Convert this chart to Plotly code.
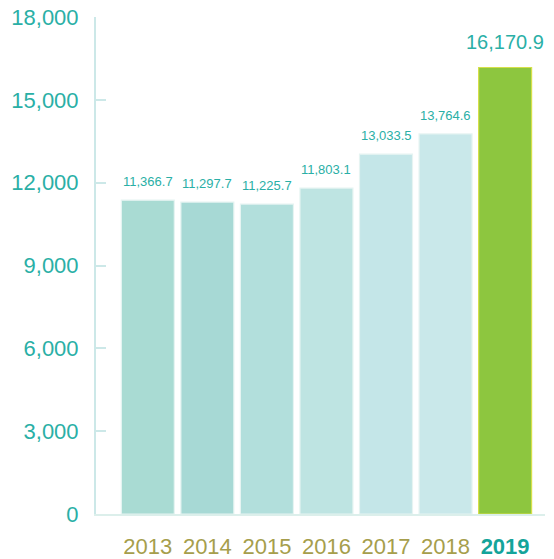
import plotly.graph_objects as go

years = ["2013", "2014", "2015", "2016", "2017", "2018", "2019"]
values = [11366.7, 11297.7, 11225.7, 11803.1, 13033.5, 13764.6, 16170.9]
value_labels = ["11,366.7", "11,297.7", "11,225.7", "11,803.1", "13,033.5", "13,764.6", "16,170.9"]
bar_colors = ["#a9dbd3", "#a7d9d5", "#b2dfdc", "#bee4e2", "#c4e6e8", "#c9e8ea", "#8dc63f"]
line_colors = ["#e6f4f2", "#e6f4f2", "#e6f4f2", "#e6f4f2", "#e6f4f2", "#e6f4f2", "#d6e04a"]
ytick_vals = [0, 3000, 6000, 9000, 12000, 15000, 18000]
ytick_text = ["0", "3,000", "6,000", "9,000", "12,000", "15,000", "18,000"]

TEAL = "#2aafa6"
OLIVE = "#a69e4c"
FONT = "Liberation Sans"

xt = [y if y != "2019" else "<b><span style='color:#14a49a'>2019</span></b>" for y in years]

fig = go.Figure()
fig.add_trace(go.Bar(
    x=list(range(len(years))), y=values,
    marker=dict(color=bar_colors, line=dict(color=line_colors, width=1.2)),
    width=0.89, hoverinfo="skip",
))

for i, (v, t) in enumerate(zip(values, value_labels)):
    big = years[i] == "2019"
    fig.add_annotation(
        x=i, y=v, text=t, showarrow=False, xanchor="center", yanchor="bottom",
        yshift=13 if big else 9,
        font=dict(family=FONT, size=20 if big else 13, color=TEAL),
    )

fig.update_layout(
    width=554, height=559,
    margin=dict(l=96, r=9, t=17, b=45),
    paper_bgcolor="white", plot_bgcolor="white",
    showlegend=False,
    xaxis=dict(
        range=[-0.87, 6.67], tickmode="array",
        tickvals=list(range(len(years))), ticktext=xt,
        showgrid=False, zeroline=False,
        showline=True, linecolor="#dcefeb", linewidth=2,
        ticks="", tickfont=dict(family=FONT, size=22, color=OLIVE),
        ticklabelstandoff=12, automargin=False,
    ),
    yaxis=dict(
        range=[0, 18000], tickmode="array",
        tickvals=ytick_vals, ticktext=ytick_text,
        showgrid=False, zeroline=False,
        showline=True, linecolor="#cce8e8", linewidth=2,
        ticks="inside", ticklen=10, tickwidth=2, tickcolor="#cce8e8",
        tickfont=dict(family=FONT, size=22, color=TEAL),
        ticklabelstandoff=11, automargin=False,
    ),
)

fig.write_html("out.html")
